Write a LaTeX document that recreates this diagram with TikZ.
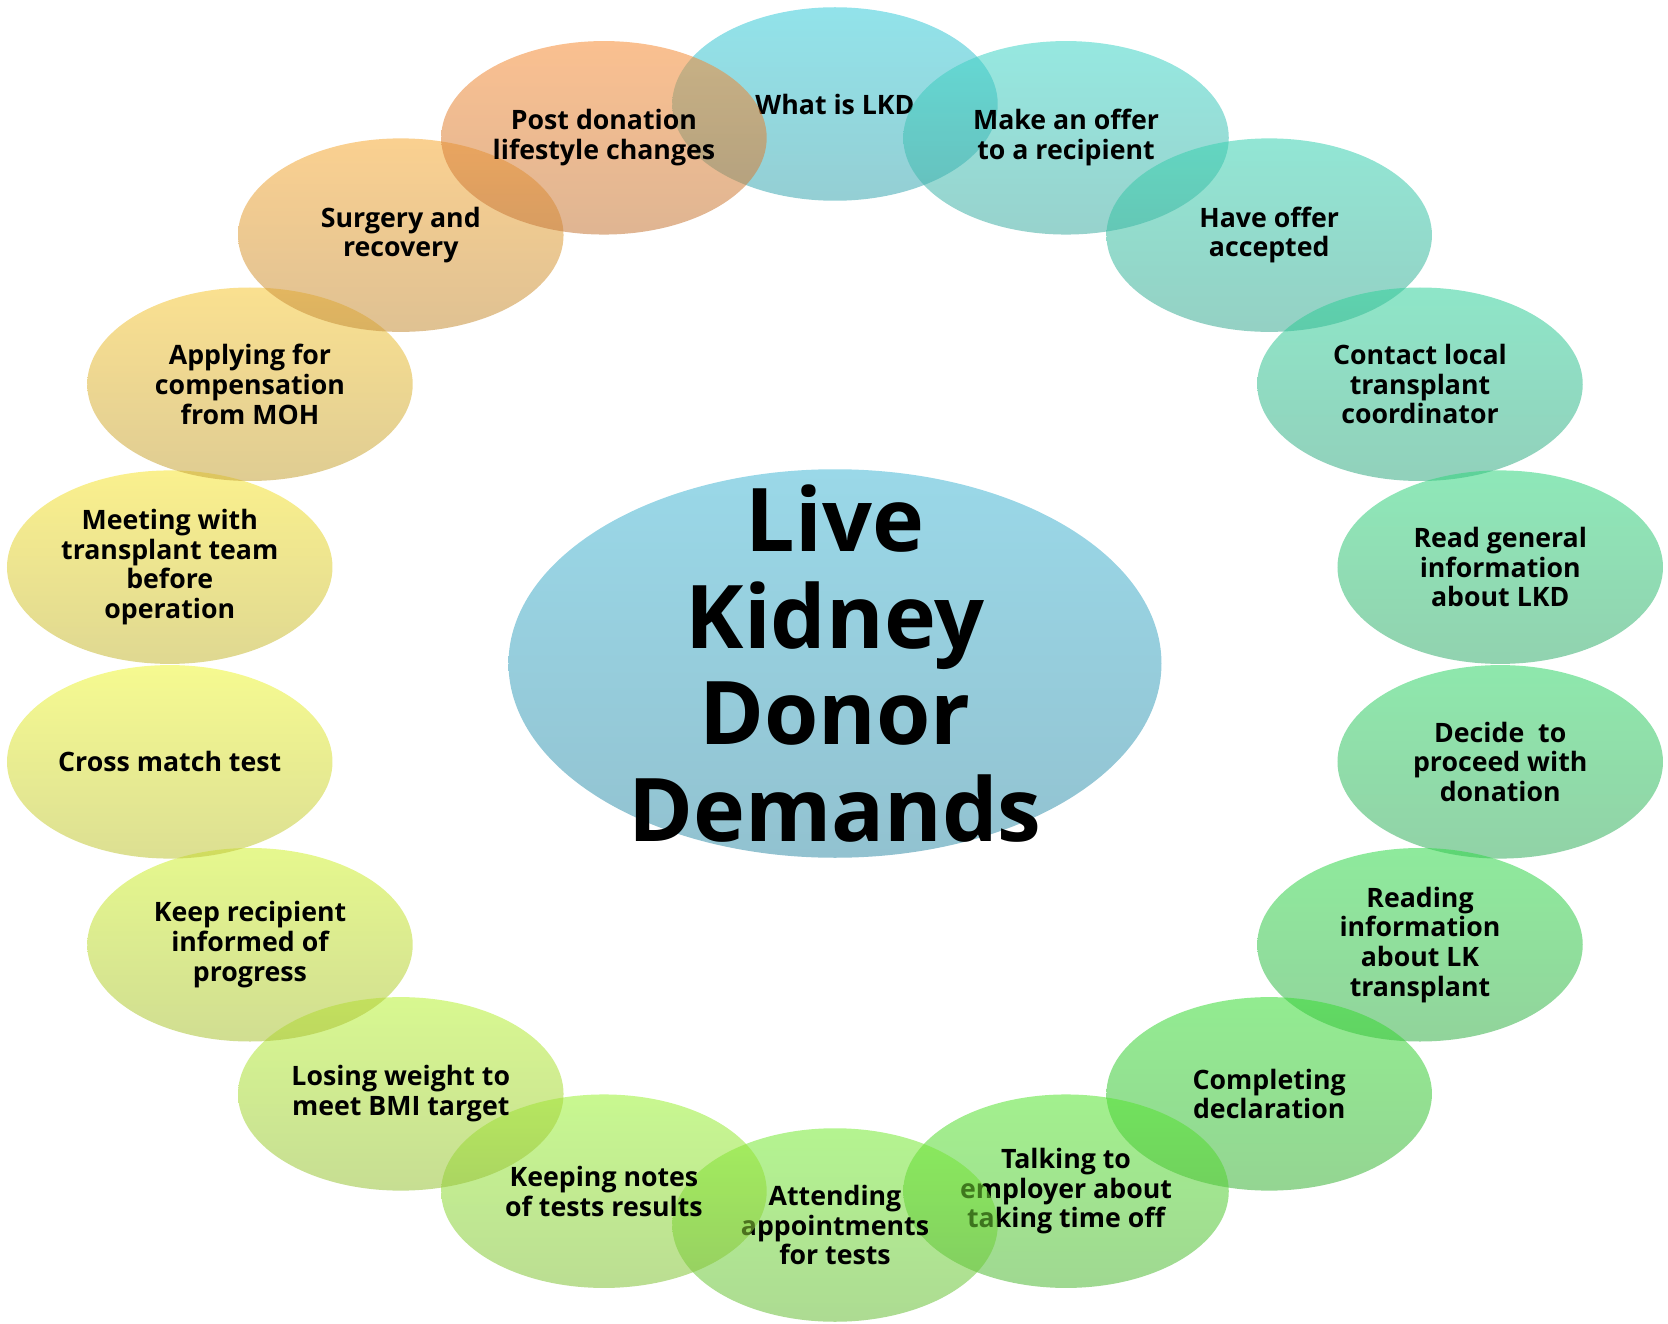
\documentclass[tikz,border=0pt]{standalone}
\usepackage{fontspec}
\setmainfont{Open Sans}
\usetikzlibrary{
  shapes.geometric,
}
\definecolor{demand1}{RGB}{57,204,217}
\definecolor{demand2}{RGB}{64,213,199}
\definecolor{demand3}{RGB}{57,209,177}
\definecolor{demand4}{RGB}{50,209,155}
\definecolor{demand5}{RGB}{50,213,126}
\definecolor{demand6}{RGB}{50,213,104}
\definecolor{demand7}{RGB}{50,217,75}
\definecolor{demand8}{RGB}{57,220,53}
\definecolor{demand9}{RGB}{86,228,49}
\definecolor{demand10}{RGB}{119,235,53}
\definecolor{demand11}{RGB}{155,242,53}
\definecolor{demand12}{RGB}{184,242,53}
\definecolor{demand13}{RGB}{209,242,49}
\definecolor{demand14}{RGB}{238,246,53}
\definecolor{demand15}{RGB}{246,228,49}
\definecolor{demand16}{RGB}{246,199,53}
\definecolor{demand17}{RGB}{246,170,53}
\definecolor{demand18}{RGB}{246,140,53}
\definecolor{hubtop}{RGB}{154,216,232}
\definecolor{hubbottom}{RGB}{146,194,208}
\tikzset{
  demand/.style={ellipse, inner sep=0pt, minimum width=6.51cm,
    minimum height=3.87cm, align=center, fill opacity=0.55,
    text opacity=1, font=\bfseries\fontsize{15.2}{16.9}\selectfont},
  hub/.style={ellipse, inner sep=0pt, minimum width=13.06cm,
    minimum height=7.77cm, top color=hubtop, bottom color=hubbottom},
  hubtext/.style={align=center, inner sep=0pt,
    font=\bfseries\fontsize{50}{55}\selectfont},
}

\begin{document}
\begin{tikzpicture}
      \useasboundingbox (-16.70, -13.17) rectangle (16.66, 13.29);
      \node [hub] (hub) at (0, 0.02) {};
      \node [hubtext] (title) at (hub.center) {Live\\Kidney\\Donor\\Demands};
      \foreach \i/\txt in {
        1/{What is LKD},
        2/{Make an offer\\to a recipient},
        3/{Have offer\\accepted},
        4/{Contact local\\transplant\\coordinator},
        5/{Read general\\information\\about LKD},
        6/{Decide\ \ to\\proceed with\\donation},
        7/{Reading\\information\\about LK\\transplant},
        8/{Completing\\declaration},
        9/{Talking to\\employer about\\taking time off},
        10/{Attending\\appointments\\for tests},
        11/{Keeping notes\\of tests results},
        12/{Losing weight to\\meet BMI target},
        13/{Keep recipient\\informed of\\progress},
        14/{Cross match test},
        15/{Meeting with\\transplant team\\before\\operation},
        16/{Applying for\\compensation\\from MOH},
        17/{Surgery and\\recovery},
        18/{Post donation\\lifestyle changes}}
      {
        \pgfmathsetmacro{\ang}{90 - 20 * (\i - 1)}
        \node [demand, top color=demand\i,
          bottom color=demand\i!85!black!85!gray] (demand\i)
          at ({13.51 * cos(\ang)}, {11.21 * sin(\ang)}) {\txt};
      }
\end{tikzpicture}
\end{document}
